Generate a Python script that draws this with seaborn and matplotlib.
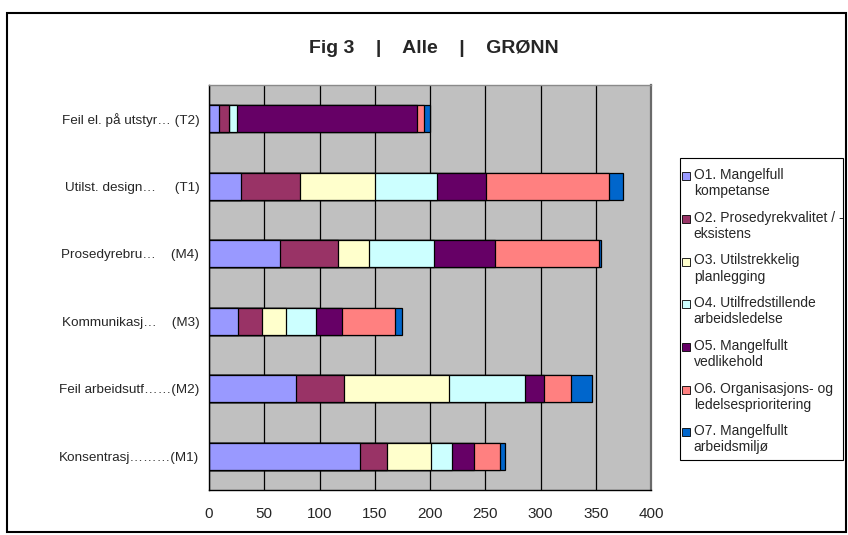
import numpy as np
import pandas as pd
import matplotlib
matplotlib.use("Agg")
import matplotlib.pyplot as plt
import seaborn as sns
from matplotlib.patches import Rectangle, Patch
from matplotlib.legend_handler import HandlerPatch

# Categories, top to bottom
categories = [
    "Feil el. på utstyr… (T2)",
    "Utilst. design…     (T1)",
    "Prosedyrebru…    (M4)",
    "Kommunikasj…    (M3)",
    "Feil arbeidsutf……(M2)",
    "Konsentrasj………(M1)",
]

series_names = [
    "O1. Mangelfull\nkompetanse",
    "O2. Prosedyrekvalitet / -\neksistens",
    "O3. Utilstrekkelig\nplanlegging",
    "O4. Utilfredstillende\narbeidsledelse",
    "O5. Mangelfullt\nvedlikehold",
    "O6. Organisasjons- og\nledelsesprioritering",
    "O7. Mangelfullt\narbeidsmiljø",
]

o1 = [9, 29, 64, 26, 79, 137]
o2 = [9, 53, 53, 22, 43, 24]
o3 = [0, 68, 28, 22, 95, 40]
o4 = [7, 56, 59, 27, 69, 19]
o5 = [163, 45, 55, 23, 17, 20]
o6 = [7, 111, 94, 48, 25, 23]
o7 = [5, 13, 2, 7, 19, 5]

x_ticks = [0, 50, 100, 150, 200, 250, 300, 350, 400]

colors = ["#9999FF", "#993366", "#FFFFCC", "#CCFFFF", "#660066", "#FF8080", "#0066CC"]

series = [o1, o2, o3, o4, o5, o6, o7]
cum = np.cumsum(np.array(series, dtype=float), axis=0)

sns.set_style("white")
plt.rcParams["font.family"] = ["Liberation Sans", "DejaVu Sans"]

W, H = 848, 535
fig = plt.figure(figsize=(W / 100, H / 100), dpi=100)
ax = fig.add_axes([209 / W, 1 - 490 / H, (651 - 209) / W, (490 - 85) / H])
ax.set_facecolor("#C0C0C0")

# Stacked bars: draw running totals from the outermost layer inwards
for i in reversed(range(len(series))):
    df = pd.DataFrame({"kategori": categories, "verdi": cum[i]})
    sns.barplot(data=df, x="verdi", y="kategori", order=categories, orient="h",
                color=colors[i], saturation=1, edgecolor="black", linewidth=0.9,
                width=0.4, errorbar=None, ax=ax, zorder=3)

ax.set_xlim(0, 400)
ax.set_ylim(len(categories) - 0.5, -0.5)
ax.set_xticks(x_ticks)
ax.set_xticklabels([str(t) for t in x_ticks], fontsize=11)
ax.set_xlabel("")
ax.set_ylabel("")
ax.tick_params(axis="y", which="major", length=0, pad=7, labelsize=9.7)
ax.set_yticks(np.arange(-0.5, len(categories) + 0.5, 1), minor=True)
ax.tick_params(axis="y", which="minor", direction="out", length=4, width=0.8, color="black")
ax.tick_params(axis="x", which="major", direction="out", length=5, width=0.8,
               color="black", pad=7)

ax.set_axisbelow(True)
ax.xaxis.grid(True, color="black", linewidth=0.9)
ax.yaxis.grid(False)

for side in ["left", "bottom"]:
    ax.spines[side].set_color("black")
    ax.spines[side].set_linewidth(1.0)
ax.spines["top"].set_color("#8A8A8A")
ax.spines["top"].set_linewidth(1.0)
ax.spines["right"].set_color("#6A6A6A")
ax.spines["right"].set_linewidth(1.6)
for s in ax.spines.values():
    s.set_visible(True)
    s.set_zorder(5)

# Title
fig.text(433.5 / W, 1 - 53 / H, "Fig 3    |    Alle    |    GRØNN",
         ha="center", va="baseline", fontsize=14, fontweight="bold")


# Legend markers sit beside the first text line
def top_square(legend, orig_handle, xdescent, ydescent, width, height, fontsize):
    side = 0.58 * fontsize
    return Rectangle((-xdescent, -ydescent + 0.56 * fontsize), side, side)


handles = [Patch(facecolor=c, edgecolor="black", linewidth=0.6) for c in colors]
leg = fig.legend(handles, series_names, loc="upper left",
                 bbox_to_anchor=(681.8 / W, 1 - 168 / H), borderaxespad=0,
                 frameon=False, fontsize=10, handlelength=0.58, handleheight=0.58,
                 handletextpad=0.28, labelspacing=0.9, borderpad=0,
                 handler_map={Patch: HandlerPatch(patch_func=top_square)})

# Legend box
fig.add_artist(Rectangle((680 / W, 1 - 460 / H), (843 - 680) / W, (460 - 158) / H,
                         transform=fig.transFigure, fill=False,
                         edgecolor="black", linewidth=0.8))

# Outer frame around the whole chart
fig.add_artist(Rectangle((7 / W, 1 - 532 / H), (846 - 7) / W, (532 - 12.7) / H,
                         transform=fig.transFigure, fill=False,
                         edgecolor="black", linewidth=1.5))

fig.savefig("out.png", dpi=100)
